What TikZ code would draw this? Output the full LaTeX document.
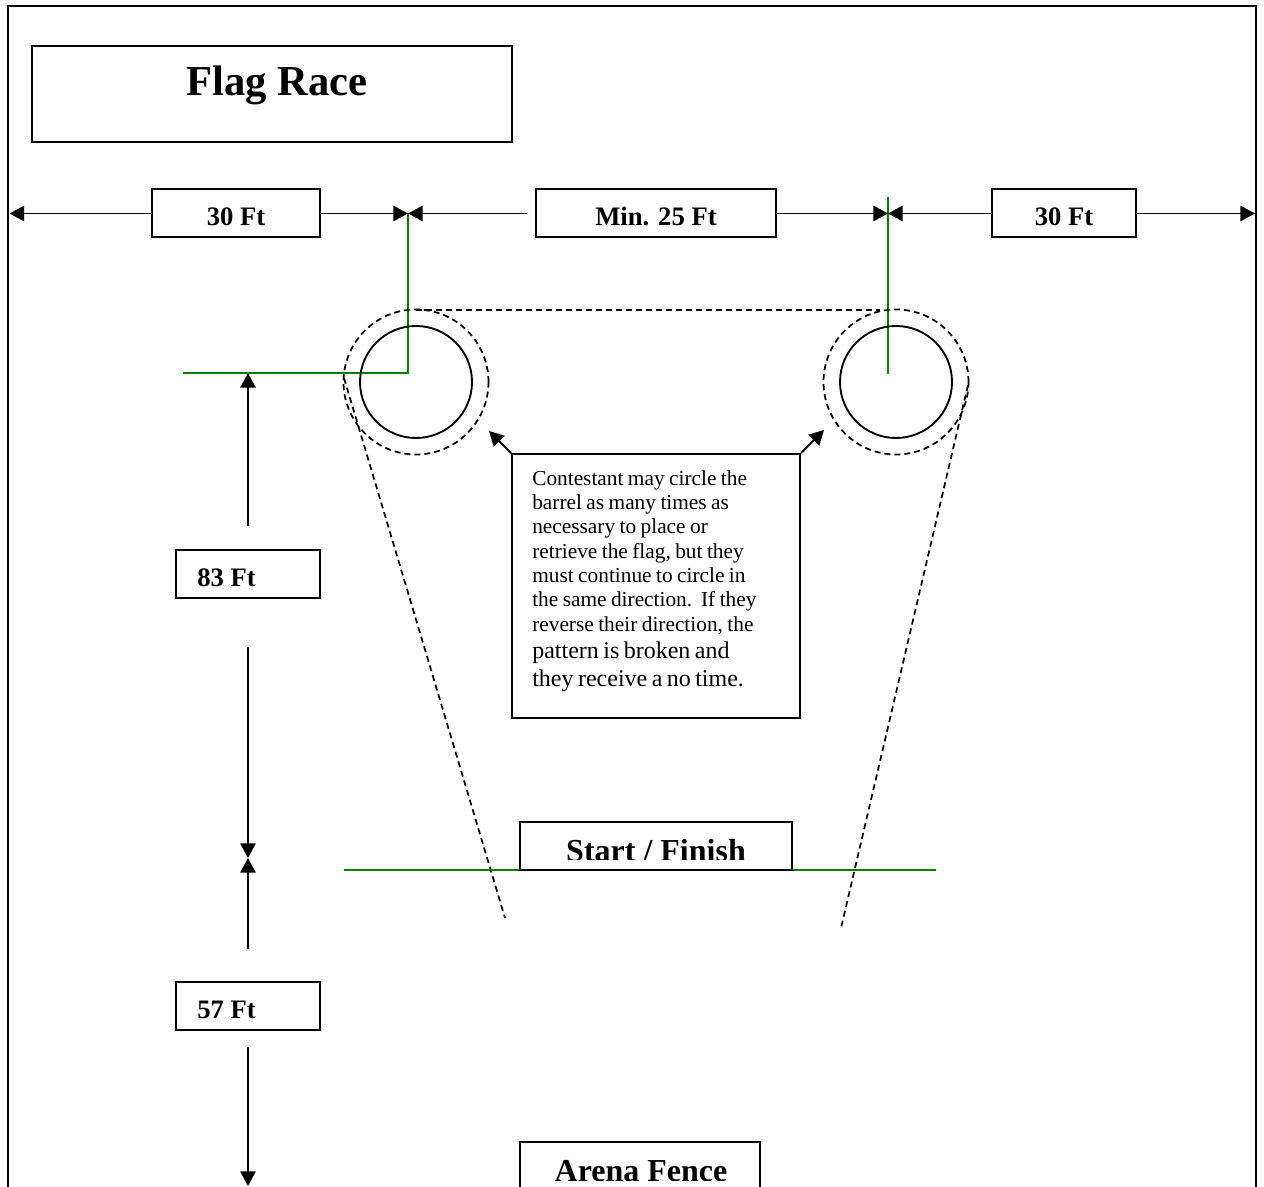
\documentclass[tikz,border=0pt]{standalone}
\usepackage{fontspec}
\setmainfont{Liberation Serif}
\usetikzlibrary{arrows.meta}
\begin{document}
\begin{tikzpicture}[x=0.75pt,y=-0.75pt,
  box/.style 2 args={draw, line width=1.5pt, inner sep=0pt, minimum width={#1*0.75pt}, minimum height={#2*0.75pt}},
  lbl/.style={font=\fontsize{20}{24}\selectfont\bfseries, inner sep=0pt, anchor=base},
  big/.style={font=\fontsize{24}{28}\selectfont\bfseries, inner sep=0pt, anchor=base},
  dim/.style={line width=1.4pt, -{Triangle[length=11pt,width=11.5pt]}},
  grn/.style={draw={rgb,255:red,0;green,128;blue,0}, line width=1.5pt},
  dsh/.style={line width=1.3pt, dash pattern=on 4.5pt off 3pt},
  barrel/.style={circle, draw, line width=1.4pt, minimum size={112*0.75pt}, inner sep=0pt},
  ring/.style={circle, draw, dsh, minimum size={145*0.75pt}, inner sep=0pt}]
\useasboundingbox (0,0) rectangle (1264,1187);
\clip (0,0) rectangle (1264,1187);

% outer frame
\draw[line width=1.6pt] (8,1195) -- (8,6) -- (1256,6) -- (1256,1195);

% title
\node[box={480}{96}] (title) at (272,94) {};
\node[font=\fontsize{32}{38}\selectfont\bfseries, anchor=base, inner sep=0pt] (titletxt) at (277,96) {Flag Race};

% top dimensions
\node[box={168}{48}] (d1) at (236,213.5) {};
\node[lbl] (d1t) at (236,226) {30 Ft};
\node[box={240}{48}] (d2) at (656,213.5) {};
\node[lbl] (d2t) at (656,226) {Min. 25 Ft};
\node[box={144}{48}] (d3) at (1064,213.5) {};
\node[lbl] (d3t) at (1064,226) {30 Ft};

\coordinate (L) at (9.5,213.5);
\coordinate (P1) at (408,213.5);
\coordinate (P2) at (888,213.5);
\coordinate (R) at (1255,213.5);

% green guide lines
\coordinate (G0) at (183,373);
\coordinate (G1) at (408,373);
\coordinate (G2) at (888,197);
\coordinate (G3) at (888,374);
\draw[grn] (P1) -- (G1) -- (G0);
\draw[grn] (G2) -- (G3);

\draw[dim] (d1.west) -- (L);
\draw[dim] (d1.east) -- (P1);
\draw[dim, shorten <=6pt] (d2.west) -- (P1);
\draw[dim] (d2.east) -- (P2);
\draw[dim] (d3.west) -- (P2);
\draw[dim] (d3.east) -- (R);

% barrels
\node[barrel] (bl) at (416,382) {};
\node[barrel] (br) at (896,382) {};
\node[ring] (rl) at (416,382) {};
\node[ring] (rr) at (896,382) {};

% dashed path
\coordinate (T0) at (416,310);
\coordinate (T1) at (880,310);
\coordinate (S0) at (344,378);
\coordinate (S1) at (505,918);
\coordinate (S2) at (968,385);
\coordinate (S3) at (841,928);
\draw[dsh] (T0) -- (T1);
\draw[dsh] (S0) -- (S1);
\draw[dsh] (S2) -- (S3);

% note
\node[box={288}{264}] (note) at (656,586) {};
\node[anchor=base west, inner sep=0pt, text width={270*0.75pt}, align=left] (notetxt) at (532,485)
 {{\fontsize{16}{18.3}\selectfont Contestant may circle the\\ barrel as many times as\\ necessary to place or\\ retrieve the flag, but they\\ must continue to circle in\\ the same direction.\ \ If they\\ reverse their direction, the\par}%
  {\fontsize{18}{20.7}\selectfont pattern is broken and\\ they receive a no time.\par}};
\coordinate (A1) at (489,431);
\coordinate (A2) at (824,430);
\draw[dim] (note.north west) -- (A1);
\draw[dim] (note.north east) -- (A2);

% vertical dimensions
\node[box={144}{48}] (b83) at (248,574) {};
\node[lbl, anchor=base west] (b83t) at (197,586) {83 Ft};
\node[box={144}{48}] (b57) at (248,1006) {};
\node[lbl, anchor=base west] (b57t) at (197,1018) {57 Ft};
\coordinate (V1) at (248,373);
\coordinate (V2) at (248,858);
\coordinate (V3) at (248,1186);
\draw[dim, shorten <=17pt] (b83.north) -- (V1);
\draw[dim, shorten <=36pt] (b83.south) -- (V2);
\draw[dim, shorten <=24pt] (b57.north) -- (V2);
\draw[dim, shorten <=12pt] (b57.south) -- (V3);

% start / finish
\coordinate (F0) at (344,870);
\coordinate (F1) at (936,870);
\draw[grn] (F0) -- (F1);
\begin{scope}
  \clip (520,822) rectangle (792,859);
  \node[big] (sftxt) at (656,861) {Start / Finish};
\end{scope}
\node[box={272}{48}] (sf) at (656,846) {};

% arena fence
\begin{scope}
  \clip (520,1142) rectangle (760,1180);
  \node[big] (aftxt) at (641,1181) {Arena Fence};
\end{scope}
\node[box={240}{80}] (af) at (640,1182) {};
\end{tikzpicture}
\end{document}
